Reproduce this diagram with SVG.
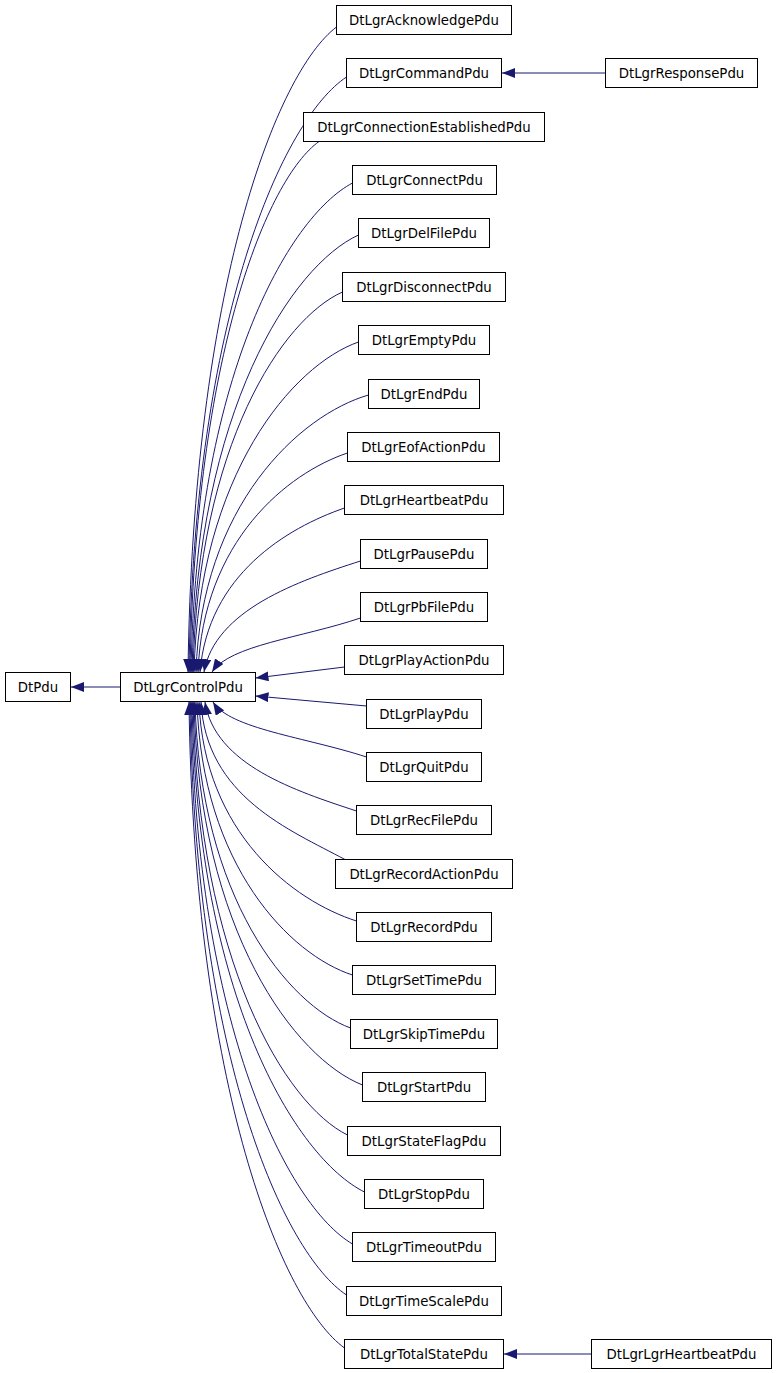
<svg xmlns="http://www.w3.org/2000/svg" width="776" height="1373" viewBox="0 0 776 1373">
<style>
.n rect{fill:#ffffff;stroke:#000000;stroke-width:1}
.n text{font-family:"DejaVu Sans","Liberation Sans",sans-serif;font-size:13.3px;fill:#000000;text-anchor:middle}
#edges path{fill:none;stroke:#191970;stroke-width:1;marker-end:url(#arr)}
</style>
<defs>
<marker id="arr" viewBox="0 0 13 10" refX="13" refY="5" markerWidth="13" markerHeight="10" markerUnits="userSpaceOnUse" orient="auto">
<path d="M0,0 L13,5 L0,10 z" fill="#191970"/>
</marker>
</defs>
<rect x="0" y="0" width="776" height="1373" fill="#ffffff"/>
<g id="edges">
<path d="M120.5,687 L71,687"/>
<path d="M605.5,73 L502,73"/>
<path d="M591.5,1354 L504,1354"/>
<path d="M336.5,27 C277.1,72 193,285 188,672"/>
<path d="M346.5,77 C283.5,118.7 194,315 189,672"/>
<path d="M319,141.5 C267.4,178.5 195,353.5 190,672"/>
<path d="M352.5,183 C287.9,217.2 196,378.6 191,672"/>
<path d="M358.5,235 C291.9,265.6 197,409.8 192,672"/>
<path d="M342.5,292 C282.7,318.6 198,444 193,672"/>
<path d="M358.5,342 C292.7,365.1 199,474 194,672"/>
<path d="M368.5,395 C299.5,415 201,505.8 196,672"/>
<path d="M347.5,453 C287.7,473 203,540.6 198,672"/>
<path d="M344.5,508 C286.7,528 208,575 200,672"/>
<path d="M360.5,561 C297.9,581 215,610 204,672"/>
<path d="M360.5,618 C301,638 230,645 212,672"/>
<path d="M344.5,667 L255.5,678"/>
<path d="M366.5,706 L255.5,696"/>
<path d="M366.5,757 C305.1,737 230,729 213,702"/>
<path d="M356.5,811 C295.9,791 215,765 205,702"/>
<path d="M345,859.5 C290,830 206,796.5 201,702"/>
<path d="M356.5,921 C293.5,901 204,833.4 199,702"/>
<path d="M352.5,975 C290.3,955 202,865.8 197,702"/>
<path d="M350.5,1028 C288.3,1005.2 200,897.6 195,702"/>
<path d="M362.5,1085 C295.1,1058.2 199,931.8 194,702"/>
<path d="M347.5,1135 C285.7,1104.7 198,961.8 193,702"/>
<path d="M364.5,1192 C295.5,1157.7 197,996 192,702"/>
<path d="M352.5,1244 C287.9,1206.1 196,1027.2 191,702"/>
<path d="M346.5,1295 C283.9,1253.5 195,1057.8 190,702"/>
<path d="M344.5,1348 C282.3,1302.8 194,1089.6 189,702"/>
</g>
<g id="DtPdu" class="n"><rect x="5.5" y="672.5" width="65" height="29"/><text x="38" y="691.5">DtPdu</text></g>
<g id="DtLgrControlPdu" class="n"><rect x="120.5" y="672.5" width="135" height="29"/><text x="188" y="691.5">DtLgrControlPdu</text></g>
<g id="DtLgrAcknowledgePdu" class="n"><rect x="336.5" y="5.5" width="175" height="29"/><text x="424" y="24.5">DtLgrAcknowledgePdu</text></g>
<g id="DtLgrCommandPdu" class="n"><rect x="346.5" y="58.5" width="155" height="29"/><text x="424" y="77.5">DtLgrCommandPdu</text></g>
<g id="DtLgrResponsePdu" class="n"><rect x="605.5" y="58.5" width="152" height="29"/><text x="681.5" y="77.5">DtLgrResponsePdu</text></g>
<g id="DtLgrConnectionEstablishedPdu" class="n"><rect x="303.5" y="112.5" width="241" height="29"/><text x="424" y="131.5">DtLgrConnectionEstablishedPdu</text></g>
<g id="DtLgrConnectPdu" class="n"><rect x="352.5" y="165.5" width="144" height="29"/><text x="424.5" y="184.5">DtLgrConnectPdu</text></g>
<g id="DtLgrDelFilePdu" class="n"><rect x="358.5" y="218.5" width="131" height="29"/><text x="424" y="237.5">DtLgrDelFilePdu</text></g>
<g id="DtLgrDisconnectPdu" class="n"><rect x="342.5" y="272.5" width="163" height="29"/><text x="424" y="291.5">DtLgrDisconnectPdu</text></g>
<g id="DtLgrEmptyPdu" class="n"><rect x="358.5" y="325.5" width="131" height="29"/><text x="424" y="344.5">DtLgrEmptyPdu</text></g>
<g id="DtLgrEndPdu" class="n"><rect x="368.5" y="379.5" width="111" height="29"/><text x="424" y="398.5">DtLgrEndPdu</text></g>
<g id="DtLgrEofActionPdu" class="n"><rect x="347.5" y="432.5" width="152" height="29"/><text x="423.5" y="451.5">DtLgrEofActionPdu</text></g>
<g id="DtLgrHeartbeatPdu" class="n"><rect x="344.5" y="485.5" width="159" height="29"/><text x="424" y="504.5">DtLgrHeartbeatPdu</text></g>
<g id="DtLgrPausePdu" class="n"><rect x="360.5" y="539.5" width="127" height="29"/><text x="424" y="558.5">DtLgrPausePdu</text></g>
<g id="DtLgrPbFilePdu" class="n"><rect x="360.5" y="592.5" width="127" height="29"/><text x="424" y="611.5">DtLgrPbFilePdu</text></g>
<g id="DtLgrPlayActionPdu" class="n"><rect x="344.5" y="645.5" width="159" height="29"/><text x="424" y="664.5">DtLgrPlayActionPdu</text></g>
<g id="DtLgrPlayPdu" class="n"><rect x="366.5" y="699.5" width="115" height="29"/><text x="424" y="718.5">DtLgrPlayPdu</text></g>
<g id="DtLgrQuitPdu" class="n"><rect x="366.5" y="752.5" width="115" height="29"/><text x="424" y="771.5">DtLgrQuitPdu</text></g>
<g id="DtLgrRecFilePdu" class="n"><rect x="356.5" y="805.5" width="135" height="29"/><text x="424" y="824.5">DtLgrRecFilePdu</text></g>
<g id="DtLgrRecordActionPdu" class="n"><rect x="335.5" y="859.5" width="177" height="29"/><text x="424" y="878.5">DtLgrRecordActionPdu</text></g>
<g id="DtLgrRecordPdu" class="n"><rect x="356.5" y="912.5" width="135" height="29"/><text x="424" y="931.5">DtLgrRecordPdu</text></g>
<g id="DtLgrSetTimePdu" class="n"><rect x="352.5" y="965.5" width="143" height="29"/><text x="424" y="984.5">DtLgrSetTimePdu</text></g>
<g id="DtLgrSkipTimePdu" class="n"><rect x="350.5" y="1019.5" width="147" height="29"/><text x="424" y="1038.5">DtLgrSkipTimePdu</text></g>
<g id="DtLgrStartPdu" class="n"><rect x="362.5" y="1072.5" width="123" height="29"/><text x="424" y="1091.5">DtLgrStartPdu</text></g>
<g id="DtLgrStateFlagPdu" class="n"><rect x="347.5" y="1126.5" width="153" height="29"/><text x="424" y="1145.5">DtLgrStateFlagPdu</text></g>
<g id="DtLgrStopPdu" class="n"><rect x="364.5" y="1179.5" width="119" height="29"/><text x="424" y="1198.5">DtLgrStopPdu</text></g>
<g id="DtLgrTimeoutPdu" class="n"><rect x="352.5" y="1232.5" width="143" height="29"/><text x="424" y="1251.5">DtLgrTimeoutPdu</text></g>
<g id="DtLgrTimeScalePdu" class="n"><rect x="346.5" y="1286.5" width="155" height="29"/><text x="424" y="1305.5">DtLgrTimeScalePdu</text></g>
<g id="DtLgrTotalStatePdu" class="n"><rect x="344.5" y="1339.5" width="159" height="29"/><text x="424" y="1358.5">DtLgrTotalStatePdu</text></g>
<g id="DtLgrLgrHeartbeatPdu" class="n"><rect x="591.5" y="1339.5" width="180" height="29"/><text x="681.5" y="1358.5">DtLgrLgrHeartbeatPdu</text></g>
</svg>
